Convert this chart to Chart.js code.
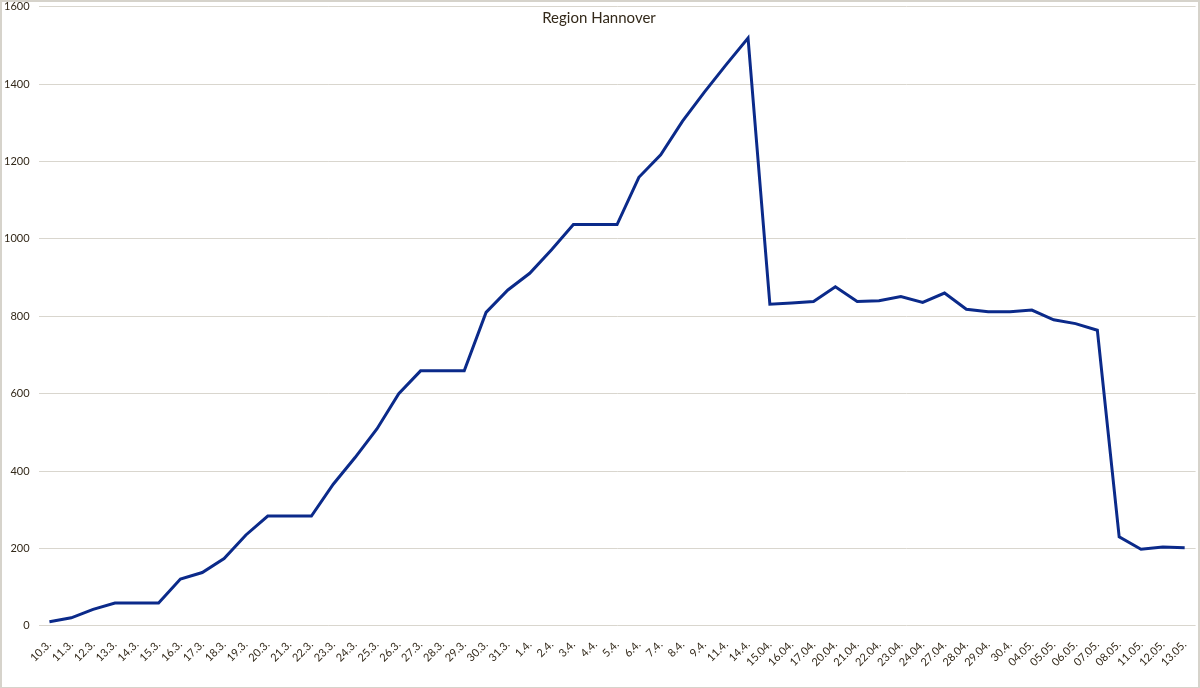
<!DOCTYPE html>
<html>
<head>
<meta charset="utf-8">
<script src="https://cdn.jsdelivr.net/npm/chart.js@4"></script>
<style>
  body { margin: 0; background: #fff; }
  #wrap { position: absolute; left: 0; top: 0; width: 1196px; height: 685px; border: 2px solid #d6d3cb; background: #fff; overflow: hidden; }
  #wrap canvas { display: block; position: absolute; left: -11px; top: -11px; }
</style>
</head>
<body>
<div id="wrap"><canvas id="hannover" width="1207" height="696"></canvas></div>
<script>
var labels = ["10.3.", "11.3.", "12.3.", "13.3.", "14.3.", "15.3.", "16.3.", "17.3.", "18.3.", "19.3.", "20.3.", "21.3.", "22.3.", "23.3.", "24.3.", "25.3.", "26.3.", "27.3.", "28.3.", "29.3.", "30.3.", "31.3.", "1.4.", "2.4.", "3.4.", "4.4.", "5.4.", "6.4.", "7.4.", "8.4.", "9.4.", "11.4.", "14.4.", "15.04.", "16.04.", "17.04.", "20.04.", "21.04.", "22.04.", "23.04.", "24.04.", "27.04.", "28.04.", "29.04.", "30.4.", "04.05.", "05.05.", "06.05.", "07.05.", "08.05.", "11.05.", "12.05.", "13.05."];
var values = [11, 21, 43, 59, 59, 59, 121, 138, 174, 235, 284, 284, 284, 366, 435, 509, 600, 659, 659, 659, 810, 868, 911, 972, 1037, 1037, 1037, 1159, 1217, 1304, 1379, 1450, 1519, 831, 834, 838, 876, 838, 840, 851, 836, 860, 818, 812, 812, 816, 791, 781, 764, 230, 198, 204, 202];
var yTicks = [0, 200, 400, 600, 800, 1000, 1200, 1400, 1600];
var title = "Region Hannover";

// draw the title inside the plot area, like the spreadsheet does
var titleInside = {
    id: 'titleInside',
    afterDraw: function(chart) {
        var c = chart.ctx;
        c.save();
        c.font = '15px Lato';
        c.fillStyle = '#33291a';
        c.textAlign = 'center';
        c.textBaseline = 'middle';
        c.fillText(title, 608, chart.chartArea.top + 12);
        c.restore();
    }
};

var ctx = document.getElementById('hannover').getContext('2d');
new Chart(ctx, {
    type: 'line',
    data: {
        labels: labels,
        datasets: [{
            label: title,
            data: values,
            borderColor: '#0b2a8a',
            borderWidth: 3,
            pointRadius: 0,
            tension: 0,
            fill: false
        }]
    },
    options: {
        responsive: false,
        animation: false,
        layout: { padding: { left: 4, right: 0, top: 0, bottom: 14 } },
        plugins: {
            legend: { display: false },
            tooltip: { enabled: false }
        },
        scales: {
            x: {
                offset: true,
                grid: { display: false },
                border: { display: false },
                ticks: {
                    autoSkip: false,
                    maxRotation: 45,
                    minRotation: 45,
                    padding: 4,
                    color: '#33291a',
                    font: { family: 'Lato', size: 11 }
                }
            },
            y: {
                min: 0,
                max: 1600,
                afterBuildTicks: function(axis) {
                    axis.ticks = yTicks.map(function(v) { return { value: v }; });
                },
                grid: { color: '#d9d6ce', lineWidth: 1, drawTicks: false },
                border: { display: false },
                ticks: {
                    padding: 9,
                    color: '#33291a',
                    font: { family: 'Lato', size: 11 },
                    callback: function(v) { return String(v); }
                }
            }
        }
    },
    plugins: [titleInside]
});
</script>
</body>
</html>
